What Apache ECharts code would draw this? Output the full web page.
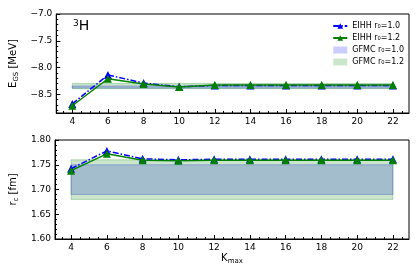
<!DOCTYPE html>
<html><head><meta charset="utf-8">
<script src="https://cdn.jsdelivr.net/npm/echarts@6/dist/echarts.min.js"></script>
<style>html,body{margin:0;padding:0;background:#fff}#c{width:420px;height:280px}</style>
</head><body><div id="c"></div>
<script>
const kmax = [4, 6, 8, 10, 12, 14, 16, 18, 20, 22];
const egsEIHH10 = [-8.68, -8.14, -8.29, -8.36, -8.335, -8.335, -8.335, -8.335, -8.335, -8.335];
const egsEIHH12 = [-8.715, -8.21, -8.31, -8.365, -8.325, -8.325, -8.325, -8.325, -8.325, -8.325];
const rcEIHH10 = [1.742, 1.778, 1.762, 1.760, 1.761, 1.761, 1.761, 1.761, 1.761, 1.761];
const rcEIHH12 = [1.738, 1.772, 1.759, 1.758, 1.759, 1.759, 1.759, 1.759, 1.759, 1.759];
const gfmcE10 = [-8.385, -8.345];
const gfmcE12 = [-8.395, -8.30];
const gfmcR10 = [1.69, 1.75];
const gfmcR12 = [1.68, 1.76];
const topYTicks = [-8.5, -8.0, -7.5, -7.0];
const botYTicks = [1.60, 1.65, 1.70, 1.75, 1.80];

const xMinor = []; for (let v = 3.5; v <= 22.5; v += 0.5) if (!kmax.includes(v)) xMinor.push(v);
const topYMinor = []; for (let i = -88; i <= -70; i++) if (i % 5 !== 0) topYMinor.push(i / 10);
const botYMinor = []; for (let i = 160; i <= 180; i++) if (i % 5 !== 0) botYMinor.push(i / 100);

const blue = '#0000ff', green = '#008000';
const font = 'DejaVu Sans';
const pairs = (ys) => kmax.map((k, i) => [k, ys[i]]);

function xAxes(grid) {
  return [
    {type: 'value', gridIndex: grid, position: 'bottom', min: 3.1, max: 22.9,
     axisLine: {lineStyle: {color: '#000', width: 1}},
     splitLine: {show: false},
     axisTick: {inside: true, length: 4, customValues: kmax, lineStyle: {color: '#000'}},
     axisLabel: {customValues: kmax, color: '#000', fontFamily: font, fontSize: 9, margin: 4},
     name: grid === 1 ? '{a|K}{s|max}' : '', nameLocation: 'middle', nameGap: 13,
     nameTextStyle: {rich: {a: {fontFamily: font, fontSize: 10, color: '#000'}, s: {fontFamily: font, fontSize: 7, color: '#000', verticalAlign: 'bottom', padding: [6, 0, 0, 0]}}}},
    {type: 'value', gridIndex: grid, position: 'bottom', min: 3.1, max: 22.9,
     axisLine: {show: false}, splitLine: {show: false}, axisLabel: {show: false},
     axisTick: {inside: true, length: 2, customValues: xMinor, lineStyle: {color: '#000'}}}
  ];
}
function yAxes(grid, min, max, ticks, minor, name, dec, gap) {
  return [
    {type: 'value', gridIndex: grid, position: 'left', min: min, max: max,
     axisLine: {show: true, lineStyle: {color: '#000', width: 1}},
     splitLine: {show: false},
     axisTick: {show: true, inside: true, length: 4, customValues: ticks, lineStyle: {color: '#000'}},
     axisLabel: {customValues: ticks, color: '#000', fontFamily: font, fontSize: 9, margin: 4,
                 formatter: v => v.toFixed(dec).replace('-', '\u2212')},
     name: name, nameLocation: 'middle', nameRotate: 90, nameGap: gap,
     nameTextStyle: {rich: {a: {fontFamily: font, fontSize: 10, color: '#000'}, s: {fontFamily: font, fontSize: 7, color: '#000', padding: [6, 0, 0, 0]}}}},
    {type: 'value', gridIndex: grid, position: 'left', min: min, max: max,
     axisLine: {show: false}, splitLine: {show: false}, axisLabel: {show: false},
     axisTick: {show: true, inside: true, length: 2, customValues: minor, lineStyle: {color: '#000'}}}
  ];
}
function band(name, vals, fill, edge, xi, yi) {
  return {type: 'custom', name: name, xAxisIndex: xi, yAxisIndex: yi, silent: true,
    itemStyle: {color: fill},
    data: [[kmax[0], kmax[kmax.length - 1], vals[0], vals[1]]],
    encode: {x: [0, 1], y: [2, 3]},
    renderItem: (params, api) => {
      const p1 = api.coord([api.value(0), api.value(3)]);
      const p2 = api.coord([api.value(1), api.value(2)]);
      return {type: 'rect', shape: {x: p1[0], y: p1[1], width: p2[0] - p1[0], height: p2[1] - p1[1]},
              style: {fill: fill, stroke: edge, lineWidth: 1}};
    }};
}
function line(name, data, color, dashed, xi, yi) {
  return {type: 'line', name: name, xAxisIndex: xi, yAxisIndex: yi, data: pairs(data),
    symbol: 'triangle', symbolSize: 8, showSymbol: true, silent: true, z: dashed ? 3 : 4,
    itemStyle: {color: color},
    lineStyle: {color: color, width: 1.5, type: dashed ? [6, 2, 1.5, 2] : 'solid'}};
}

const chart = echarts.init(document.getElementById('c'), null, {renderer: 'canvas'});
chart.setOption({
  animation: false,
  backgroundColor: '#fff',
  grid: [
    {left: 55, top: 14, width: 354, height: 99, show: true, borderColor: '#000', borderWidth: 1, containLabel: false},
    {left: 55, top: 140, width: 354, height: 99, show: true, borderColor: '#000', borderWidth: 1, containLabel: false}
  ],
  xAxis: [...xAxes(0), ...xAxes(1)],
  yAxis: [...yAxes(0, -8.85, -7.0, topYTicks, topYMinor, '{a|E}{s|GS}{a| [MeV]}', 1, 25),
          ...yAxes(1, 1.60, 1.80, botYTicks, botYMinor, '{a|r}{s|c}{a| [fm]}', 2, 23)],
  legend: {
    right: 12, top: 20, orient: 'vertical', itemGap: 4, itemWidth: 14, itemHeight: 7,
    padding: [2, 4, 2, 4], borderWidth: 0,
    textStyle: {fontFamily: font, fontSize: 8, color: '#000', padding: [0, 0, 0, 0]},
    data: [
      {name: 'EIHH r\u2080=1.0'},
      {name: 'EIHH r\u2080=1.2'},
      {name: 'GFMC r\u2080=1.0', icon: 'rect', itemStyle: {color: 'rgba(0,0,255,0.2)', borderColor: 'rgba(0,0,255,0.25)'}},
      {name: 'GFMC r\u2080=1.2', icon: 'rect', itemStyle: {color: 'rgba(0,128,0,0.2)', borderColor: 'rgba(0,128,0,0.25)'}}
    ]
  },
  graphic: [{type: 'text', left: 73, top: 19,
    style: {text: '{s|3}{b|H}', rich: {s: {fontFamily: font, fontSize: 9, fill: '#000', verticalAlign: 'top'}, b: {fontFamily: font, fontSize: 14, fill: '#000'}}}}],
  series: [
    band('GFMC r\u2080=1.0', gfmcE10, 'rgba(0,0,255,0.2)', 'rgba(0,0,255,0.25)', 0, 0),
    band('GFMC r\u2080=1.2', gfmcE12, 'rgba(0,128,0,0.2)', 'rgba(0,128,0,0.25)', 0, 0),
    band('GFMC r\u2080=1.0', gfmcR10, 'rgba(0,0,255,0.2)', 'rgba(0,0,255,0.25)', 2, 2),
    band('GFMC r\u2080=1.2', gfmcR12, 'rgba(0,128,0,0.2)', 'rgba(0,128,0,0.25)', 2, 2),
    line('EIHH r\u2080=1.0', egsEIHH10, blue, true, 0, 0),
    line('EIHH r\u2080=1.2', egsEIHH12, green, false, 0, 0),
    line('EIHH r\u2080=1.0', rcEIHH10, blue, true, 2, 2),
    line('EIHH r\u2080=1.2', rcEIHH12, green, false, 2, 2)
  ]
});
</script></body></html>
